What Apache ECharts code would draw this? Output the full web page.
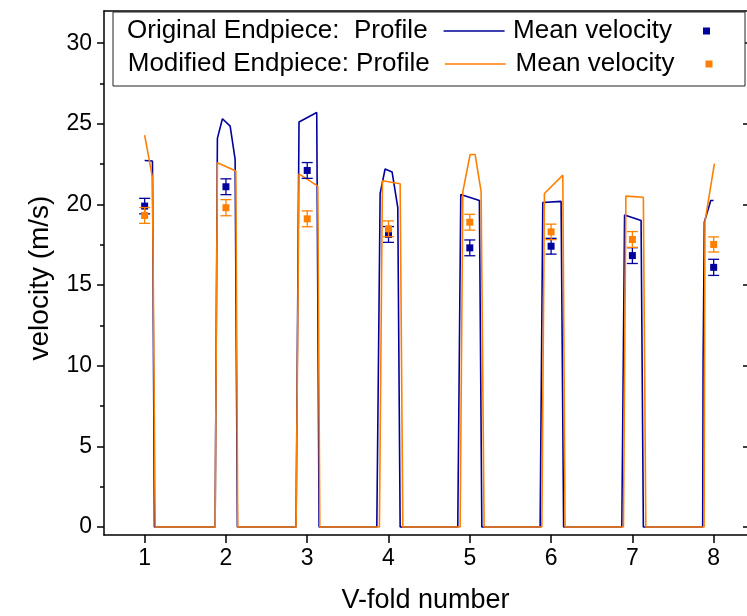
<!DOCTYPE html>
<html>
<head>
<meta charset="utf-8">
<script src="https://cdn.jsdelivr.net/npm/echarts@6/dist/echarts.min.js"></script>
<style>
html,body{margin:0;padding:0;background:#fff;}
#chart{width:747px;height:616px;}
</style>
</head>
<body>
<div id="chart"></div>
<script>
// ---- data ----
const xTicks = [1, 2, 3, 4, 5, 6, 7, 8];
const yTicks = [0, 5, 10, 15, 20, 25, 30];
const yMinorTicks = [2.5, 7.5, 12.5, 17.5, 22.5, 27.5];

// Original endpiece velocity profile
const origProfileX = [1.0, 1.096, 1.12, 1.867, 1.895, 1.957, 2.052, 2.113, 2.141, 2.863, 2.899, 3.117, 3.146, 3.856, 3.897, 3.958, 4.044, 4.114, 4.143, 4.852, 4.889, 5.118, 5.148, 5.865, 5.898, 6.123, 6.154, 6.87, 6.904, 7.107, 7.135, 7.865, 7.87, 7.885, 7.964, 7.999];
const origProfileY = [22.73, 22.7, 0, 0, 24.1, 25.32, 24.86, 22.8, 0, 0, 25.12, 25.7, 0, 0, 20.68, 22.2, 22.02, 19.8, 0, 0, 20.62, 20.25, 0, 0, 20.12, 20.19, 0, 0, 19.35, 19.0, 0, 0, 10.2, 18.9, 20.25, 20.25];

// Modified endpiece velocity profile
const modProfileX = [1.0, 1.096, 1.13, 1.867, 1.895, 2.122, 2.145, 2.863, 2.899, 3.13, 3.155, 3.888, 3.925, 4.143, 4.176, 4.881, 4.914, 5.004, 5.065, 5.139, 5.176, 5.886, 5.918, 6.144, 6.172, 6.89, 6.92, 7.135, 7.165, 7.882, 7.893, 8.009];
const modProfileY = [24.3, 21.66, 0, 0, 22.59, 22.07, 0, 0, 21.9, 21.14, 0, 0, 21.47, 21.29, 0, 0, 20.78, 23.1, 23.1, 20.8, 0, 0, 20.68, 21.82, 0, 0, 20.52, 20.45, 0, 0, 18.94, 22.53];

// Mean velocities with error
const folds = [1, 2, 3, 4, 5, 6, 7, 8];
const origMean = [19.9, 21.1, 22.11, 18.14, 17.31, 17.41, 16.83, 16.1];
const origErr = [0.48, 0.49, 0.49, 0.49, 0.49, 0.49, 0.49, 0.5];
const modMean = [19.32, 19.8, 19.11, 18.49, 18.9, 18.3, 17.83, 17.52];
const modErr = [0.49, 0.5, 0.49, 0.49, 0.49, 0.48, 0.49, 0.47];

// ---- chart ----
const BLUE = '#00009c';
const ORANGE = '#ff8000';
const FONT = "'Liberation Sans', Arial, sans-serif";

const chart = echarts.init(document.getElementById('chart'), null, {renderer: 'canvas'});

function pairs(xs, ys) { return xs.map((x, i) => [x, ys[i]]); }
function errData(xs, m, e) { return xs.map((x, i) => [x, m[i], e[i]]); }

function errRender(color) {
  return function (params, api) {
    const x = api.value(0), m = api.value(1), e = api.value(2);
    const pTop = api.coord([x, m + e]);
    const pBot = api.coord([x, m - e]);
    const hw = 5.5;
    const st = {stroke: color, lineWidth: 1.3};
    return {
      type: 'group',
      children: [
        {type: 'line', shape: {x1: pTop[0], y1: pTop[1], x2: pBot[0], y2: pBot[1]}, style: st},
        {type: 'line', shape: {x1: pTop[0] - hw, y1: pTop[1], x2: pTop[0] + hw, y2: pTop[1]}, style: st},
        {type: 'line', shape: {x1: pBot[0] - hw, y1: pBot[1], x2: pBot[0] + hw, y2: pBot[1]}, style: st}
      ]
    };
  };
}

const axisLineStyle = {color: '#000', width: 1.5};
const XMIN = 0.5, XMAX = 8.41, YMIN = -0.5, YMAX = 32;
const LEG_FS = 26;

function legendBase(extra) {
  return Object.assign({
    orient: 'horizontal',
    align: 'right',
    padding: 0,
    selectedMode: false,
    z: 20,
    textStyle: {fontSize: LEG_FS, fontFamily: FONT, color: '#000', lineHeight: 26}
  }, extra);
}

const option = {
  animation: false,
  backgroundColor: '#fff',
  grid: {left: 104, right: 0, top: 11, bottom: 81, containLabel: false, outerBoundsMode: 'none'},
  xAxis: [
    {
      type: 'value', position: 'bottom', min: XMIN, max: XMAX,
      axisLine: {show: true, onZero: false, lineStyle: axisLineStyle},
      axisTick: {show: true, inside: false, length: 8, customValues: xTicks, lineStyle: {color: '#000', width: 1.5}},
      axisLabel: {show: true, customValues: xTicks, fontSize: 23, fontFamily: FONT, color: '#000', margin: 12},
      splitLine: {show: false},
      name: 'V-fold number', nameLocation: 'middle', nameGap: 52,
      nameTextStyle: {fontSize: 27, fontFamily: FONT, color: '#000'}
    },
    {
      type: 'value', position: 'top', min: XMIN, max: XMAX,
      axisLine: {show: true, onZero: false, lineStyle: axisLineStyle},
      axisTick: {show: false}, axisLabel: {show: false}, splitLine: {show: false}
    }
  ],
  yAxis: [
    {
      type: 'value', position: 'left', min: YMIN, max: YMAX,
      axisLine: {show: true, onZero: false, lineStyle: axisLineStyle},
      axisTick: {show: true, inside: false, length: 7, customValues: yTicks, lineStyle: {color: '#000', width: 1.5}},
      axisLabel: {show: true, customValues: yTicks, fontSize: 23, fontFamily: FONT, color: '#000', margin: 12, padding: [5, 0, 0, 0]},
      splitLine: {show: false},
      name: 'velocity (m/s)', nameLocation: 'middle', nameGap: 50, nameRotate: 90,
      nameTextStyle: {fontSize: 28, fontFamily: FONT, color: '#000', padding: [0, 10, 0, 0]}
    },
    {
      type: 'value', position: 'left', min: YMIN, max: YMAX,
      axisLine: {show: false},
      axisTick: {show: true, inside: false, length: 4, customValues: yMinorTicks, lineStyle: {color: '#000', width: 1.5}},
      axisLabel: {show: false}, splitLine: {show: false}
    },
    {
      type: 'value', position: 'right', min: YMIN, max: YMAX,
      axisLine: {show: false},
      axisTick: {show: true, inside: true, length: 4, customValues: yTicks, lineStyle: {color: '#000', width: 1.5}},
      axisLabel: {show: false}, splitLine: {show: false}
    }
  ],
  legend: [
    legendBase({right: 242.4, top: 18, itemWidth: 61, itemHeight: 1.6,
      data: [{name: 'Original Endpiece:  Profile', icon: 'rect', textStyle: {padding: [0, 11, 0, 0]}}]}),
    legendBase({right: 37, top: 18, itemWidth: 7, itemHeight: 7,
      formatter: () => 'Mean velocity',
      data: [{name: 'Original: Mean velocity', icon: 'rect', textStyle: {padding: [0, 26, 0, 0]}}]}),
    legendBase({right: 241.2, top: 51, itemWidth: 61, itemHeight: 1.6,
      data: [{name: 'Modified Endpiece: Profile', icon: 'rect', textStyle: {padding: [0, 10, 0, 0]}}]}),
    legendBase({right: 34.5, top: 51, itemWidth: 7, itemHeight: 7,
      formatter: () => 'Mean velocity',
      data: [{name: 'Modified: Mean velocity', icon: 'rect', textStyle: {padding: [0, 26, 0, 0]}}]})
  ],
  graphic: [
    {type: 'rect', z: 10, shape: {x: 113, y: 12, width: 632, height: 74},
     style: {fill: '#fff', stroke: '#222', lineWidth: 1}}
  ],
  series: [
    {
      name: 'Original Endpiece:  Profile', type: 'line', xAxisIndex: 0, yAxisIndex: 0,
      data: pairs(origProfileX, origProfileY), symbol: 'none', showSymbol: false,
      lineStyle: {color: BLUE, width: 1.6}, itemStyle: {color: BLUE}, z: 2
    },
    {
      name: 'Modified Endpiece: Profile', type: 'line', xAxisIndex: 0, yAxisIndex: 0,
      data: pairs(modProfileX, modProfileY), symbol: 'none', showSymbol: false,
      lineStyle: {color: ORANGE, width: 1.6}, itemStyle: {color: ORANGE}, z: 3
    },
    {
      name: 'Original: error', type: 'custom', xAxisIndex: 0, yAxisIndex: 0,
      data: errData(folds, origMean, origErr), renderItem: errRender(BLUE), z: 4
    },
    {
      name: 'Original: Mean velocity', type: 'scatter', xAxisIndex: 0, yAxisIndex: 0,
      data: pairs(folds, origMean), symbol: 'rect', symbolSize: 7,
      itemStyle: {color: BLUE, opacity: 1}, z: 5
    },
    {
      name: 'Modified: error', type: 'custom', xAxisIndex: 0, yAxisIndex: 0,
      data: errData(folds, modMean, modErr), renderItem: errRender(ORANGE), z: 6
    },
    {
      name: 'Modified: Mean velocity', type: 'scatter', xAxisIndex: 0, yAxisIndex: 0,
      data: pairs(folds, modMean), symbol: 'rect', symbolSize: 7,
      itemStyle: {color: ORANGE, opacity: 1}, z: 7
    }
  ]
};
chart.setOption(option);
</script>
</body>
</html>
